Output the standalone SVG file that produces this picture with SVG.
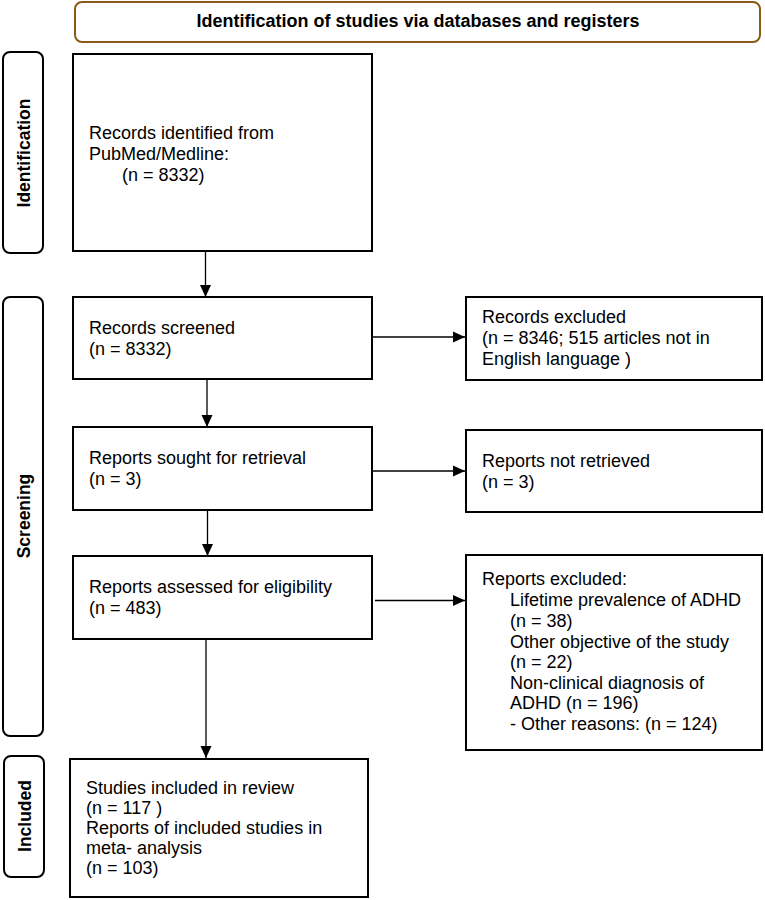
<svg xmlns="http://www.w3.org/2000/svg" width="765" height="900" viewBox="0 0 765 900">
<style>
.box{fill:#fff;stroke:#000;stroke-width:2}
.side{fill:#fff;stroke:#000;stroke-width:2}
.t{font-family:"Liberation Sans",Arial,sans-serif;font-size:18px;fill:#000}
.lb{font-family:"Liberation Sans",Arial,sans-serif;font-size:17.5px;font-weight:bold;fill:#000}
.hd{font-family:"Liberation Sans",Arial,sans-serif;font-size:18px;font-weight:bold;fill:#000}
.c{stroke:#000;stroke-width:1.3;fill:none;marker-end:url(#ah)}
</style>
<defs>
<marker id="ah" markerUnits="userSpaceOnUse" markerWidth="12" markerHeight="12" viewBox="0 0 12 12" refX="12" refY="6" orient="auto">
<path d="M0,0.5 L12,6 L0,11.5 Z" fill="#000"/>
</marker>
</defs>
<rect width="765" height="900" fill="#fff"/>
<g id="header">
<rect x="75" y="2" width="685" height="40" rx="7" fill="#fff" stroke="#8B5A16" stroke-width="2"/>
<text class="hd" x="418" y="27" text-anchor="middle">Identification of studies via databases and registers</text>
</g>
<g id="label-identification">
<rect class="side" x="3" y="52" width="40" height="201" rx="7"/>
<text class="lb" transform="translate(29.5,153) rotate(-90)" text-anchor="middle">Identification</text>
</g>
<g id="label-screening">
<rect class="side" x="3" y="297" width="40" height="439" rx="7"/>
<text class="lb" transform="translate(29.5,516) rotate(-90)" text-anchor="middle">Screening</text>
</g>
<g id="label-included">
<rect class="side" x="4" y="756" width="40" height="121" rx="7"/>
<text class="lb" transform="translate(30.5,816) rotate(-90)" text-anchor="middle">Included</text>
</g>
<g id="identified">
<rect class="box" x="73" y="54" width="299" height="197"/>
<text class="t" x="89" y="139">Records identified from</text>
<text class="t" x="89" y="160">PubMed/Medline:</text>
<text class="t" x="122" y="181">(n = 8332)</text>
</g>
<g id="screened">
<rect class="box" x="73" y="297" width="299" height="82"/>
<text class="t" x="89" y="334">Records screened</text>
<text class="t" x="89" y="355">(n = 8332)</text>
</g>
<g id="records-excluded">
<rect class="box" x="466" y="297" width="296" height="83"/>
<text class="t" x="482" y="323">Records excluded</text>
<text class="t" x="482" y="344">(n = 8346; 515 articles not in</text>
<text class="t" x="482" y="365">English language )</text>
</g>
<g id="sought">
<rect class="box" x="73" y="427" width="299" height="83"/>
<text class="t" x="89" y="464">Reports sought for retrieval</text>
<text class="t" x="89" y="485">(n = 3)</text>
</g>
<g id="not-retrieved">
<rect class="box" x="466" y="430" width="296" height="82"/>
<text class="t" x="482" y="467">Reports not retrieved</text>
<text class="t" x="482" y="488">(n = 3)</text>
</g>
<g id="assessed">
<rect class="box" x="73" y="556" width="299" height="83"/>
<text class="t" x="89" y="593">Reports assessed for eligibility</text>
<text class="t" x="89" y="614">(n = 483)</text>
</g>
<g id="reports-excluded">
<rect class="box" x="466" y="555" width="296" height="195"/>
<text class="t" x="482" y="585">Reports excluded:</text>
<text class="t" x="510" y="606">Lifetime prevalence of ADHD</text>
<text class="t" x="510" y="627">(n = 38)</text>
<text class="t" x="510" y="648">Other objective of the study</text>
<text class="t" x="510" y="668">(n = 22)</text>
<text class="t" x="510" y="689">Non-clinical diagnosis of</text>
<text class="t" x="510" y="709">ADHD (n = 196)</text>
<text class="t" x="510" y="730">- Other reasons: (n = 124)</text>
</g>
<g id="included">
<rect class="box" x="70" y="759" width="298" height="138"/>
<text class="t" x="86" y="794">Studies included in review</text>
<text class="t" x="86" y="814">(n = 117 )</text>
<text class="t" x="86" y="834">Reports of included studies in</text>
<text class="t" x="86" y="854">meta- analysis</text>
<text class="t" x="86" y="874">(n = 103)</text>
</g>
<g id="connectors">
<line class="c" x1="205.5" y1="251" x2="205.5" y2="297"/>
<line class="c" x1="207" y1="379" x2="207" y2="427"/>
<line class="c" x1="207.5" y1="510" x2="207.5" y2="556"/>
<line class="c" x1="206" y1="639" x2="206" y2="758"/>
<line class="c" x1="372" y1="337" x2="465" y2="337"/>
<line class="c" x1="373" y1="471" x2="465" y2="471"/>
<line class="c" x1="375" y1="600.5" x2="465" y2="600.5"/>
</g>
</svg>
